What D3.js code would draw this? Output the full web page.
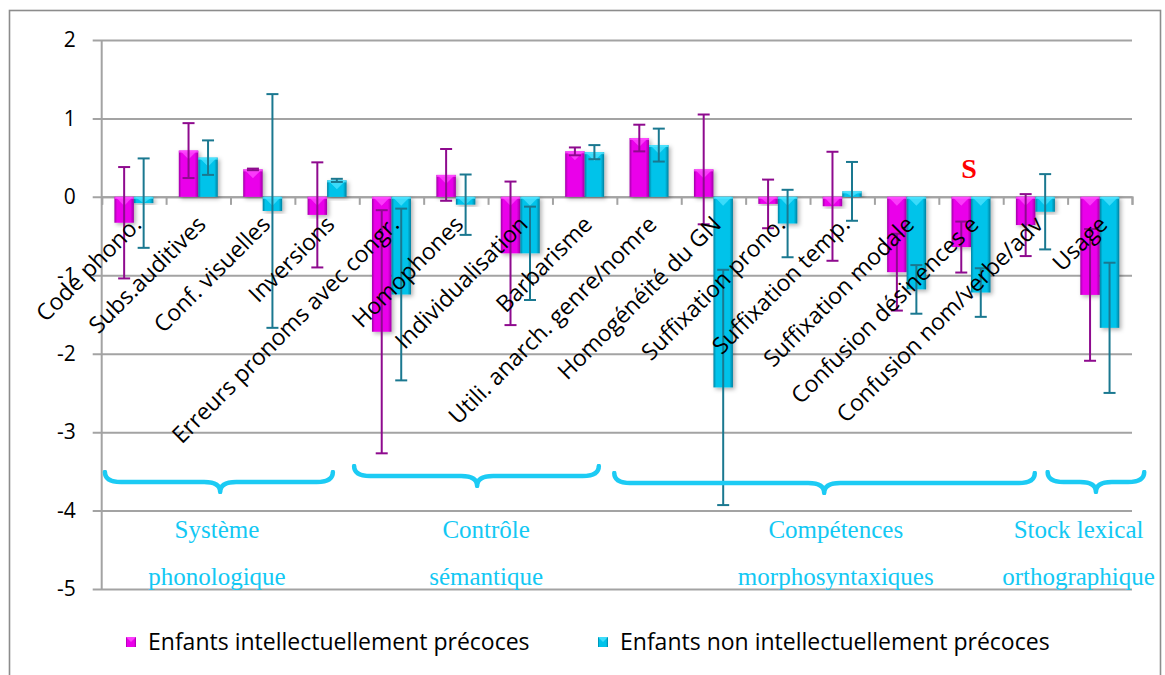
<!DOCTYPE html>
<html>
<head>
<meta charset="utf-8">
<script src="https://cdn.jsdelivr.net/npm/d3@7"></script>
<style>
  html, body { margin: 0; padding: 0; background: #ffffff; }
  svg { display: block; }
</style>
</head>
<body>
<svg id="chart" width="1165" height="675"></svg>
<script>
// ---------- DATA ----------
const categories = [
  "Code phono.", "Subs.auditives", "Conf. visuelles", "Inversions",
  "Erreurs pronoms avec congr.", "Homophones", "Individualisation", "Barbarisme",
  "Utili. anarch. genre/nomre", "Homogénéité du GN", "Suffixation prono.",
  "Suffixation temp.", "Suffixation modale", "Confusion désinences e",
  "Confusion nom/verbe/adv", "Usage"
];
const seriesNames = ["Enfants intellectuellement précoces", "Enfants non intellectuellement précoces"];
const precoces      = [-0.33, 0.59, 0.35, -0.23, -1.72, 0.28, -0.72, 0.58, 0.75, 0.35, -0.09, -0.12, -0.96, -0.64, -0.36, -1.25];
const precocesErr   = [0.71, 0.35, 0.01, 0.67, 1.55, 0.33, 0.915, 0.05, 0.17, 0.70, 0.31, 0.695, 0.49, 0.325, 0.395, 0.84];
const nonPrecoces   = [-0.08, 0.50, -0.18, 0.21, -1.245, -0.10, -0.72, 0.57, 0.66, -2.43, -0.34, 0.07, -1.18, -1.22, -0.19, -1.67];
const nonPrecocesErr= [0.57, 0.22, 1.49, 0.02, 1.095, 0.385, 0.595, 0.09, 0.21, 1.50, 0.43, 0.375, 0.31, 0.31, 0.48, 0.83];
const yTicks = [2, 1, 0, -1, -2, -3, -4, -5];
const groupLabels = [["Système", "phonologique"], ["Contrôle", "sémantique"], ["Compétences", "morphosyntaxiques"], ["Stock lexical", "orthographique"]];
const significanceMarks = [{ category: "Confusion désinences e", text: "S" }];

// ---------- LAYOUT ----------
const W = 1165, H = 675;
const plot = { left: 101.7, right: 1132, top: 40, bottom: 589 };
const sansFont = "'Open Sans', Lato, sans-serif";
const serifFont = "'Liberation Serif', 'Times New Roman', serif";
// brace layout in category units: start, tip, end; top y; label centre
const braceLayout = [
  { s: 0.05, t: 1.84, e: 3.59, y: 472, lc: 1.79 },
  { s: 3.92, t: 5.83, e: 7.72, y: 466, lc: 5.97 },
  { s: 7.96, t: 11.22, e: 14.49, y: 473, lc: 11.4 },
  { s: 14.69, t: 15.44, e: 16.19, y: 472, lc: 15.17 }
];

const svg = d3.select("#chart");
const defs = svg.append("defs");

const colors = [
  { dark: "#a000a6", main: "#ea00ea", light: "#ff4dff", err: "#8e0a8e" },
  { dark: "#00809f", main: "#00c3ea", light: "#4ee3ff", err: "#1a7890" }
];
colors.forEach((c, i) => {
  const g = defs.append("linearGradient").attr("id", "grad" + i).attr("x1", "0").attr("x2", "1").attr("y1", "0").attr("y2", "0");
  g.append("stop").attr("offset", "0%").attr("stop-color", c.dark);
  g.append("stop").attr("offset", "14%").attr("stop-color", c.main);
  g.append("stop").attr("offset", "82%").attr("stop-color", c.main);
  g.append("stop").attr("offset", "100%").attr("stop-color", c.dark);
});
const f = defs.append("filter").attr("id", "shadow").attr("x", "-30%").attr("y", "-10%").attr("width", "170%").attr("height", "130%");
f.append("feDropShadow").attr("dx", 2).attr("dy", 2).attr("stdDeviation", 2).attr("flood-color", "#000").attr("flood-opacity", 0.3);
const blur = defs.append("filter").attr("id", "soft");
blur.append("feGaussianBlur").attr("stdDeviation", 0.6);

// outer frame
svg.append("rect").attr("x", 9.5).attr("y", 10.5).attr("width", 1151).attr("height", 680)
  .attr("fill", "none").attr("stroke", "#8c8c8c").attr("stroke-width", 1.6);

// scales
const x = d3.scaleBand().domain(categories).range([plot.left, plot.right]).padding(0);
const xu = d3.scaleLinear().domain([0, categories.length]).range([plot.left, plot.right]);
const y = d3.scaleLinear().domain([-5, 2]).range([plot.bottom, plot.top]);
const barW = 19.5;
const x1 = d3.scaleBand().domain([0, 1]).range([x.bandwidth() / 2 - barW, x.bandwidth() / 2 + barW]).padding(0);

// gridlines + y axis
const yAxis = d3.axisLeft(y).tickValues(yTicks).tickSize(-(plot.right - plot.left)).tickFormat(d => String(d));
const gy = svg.append("g").attr("transform", `translate(${plot.left},0)`).call(yAxis);
gy.select(".domain").remove();
gy.selectAll(".tick line").attr("stroke", "#a3a3a3").attr("stroke-width", 2).attr("x1", -9);
gy.selectAll(".tick text").attr("x", -26).attr("fill", "#000").style("font-family", sansFont).style("font-size", "21px");
svg.append("line").attr("x1", plot.left).attr("x2", plot.left).attr("y1", plot.top).attr("y2", plot.bottom)
  .attr("stroke", "#a3a3a3").attr("stroke-width", 2);

// zero axis with downward ticks at band edges
const xAxis = d3.axisBottom(xu).tickValues(d3.range(0, categories.length + 1)).tickSize(8).tickFormat("");
const gx = svg.append("g").attr("transform", `translate(0,${y(0)})`).call(xAxis);
gx.select(".domain").attr("stroke", "#a3a3a3").attr("stroke-width", 2);
gx.selectAll(".tick line").attr("stroke", "#a3a3a3").attr("stroke-width", 2);

// bars
const series = [
  { vals: precoces, errs: precocesErr },
  { vals: nonPrecoces, errs: nonPrecocesErr }
];
series.forEach((s, si) => {
  const g = svg.append("g");
  categories.forEach((cat, ci) => {
    const v = s.vals[ci];
    const bx = x(cat) + x1(si);
    const top = y(Math.max(0, v));
    const h = Math.abs(y(v) - y(0));
    const bar = g.append("g").attr("filter", "url(#shadow)");
    bar.append("rect").attr("x", bx).attr("y", top).attr("width", barW).attr("height", h)
      .attr("fill", `url(#grad${si})`);
    const th = Math.min(h, barW * 0.45);
    bar.append("path")
      .attr("d", `M${bx + 1},${top} L${bx + barW - 1},${top} L${bx + barW / 2},${top + th} Z`)
      .attr("fill", colors[si].light).attr("opacity", 0.75);
    bar.append("rect").attr("x", bx).attr("y", top).attr("width", barW).attr("height", Math.min(2, h))
      .attr("fill", colors[si].light).attr("opacity", 0.8);
  });
});

// error bars
series.forEach((s, si) => {
  const g = svg.append("g").attr("stroke", colors[si].err).attr("stroke-width", 2).attr("fill", "none");
  categories.forEach((cat, ci) => {
    const cx = x(cat) + x1(si) + barW / 2;
    const hi = y(s.vals[ci] + s.errs[ci]);
    const lo = y(s.vals[ci] - s.errs[ci]);
    g.append("line").attr("x1", cx).attr("x2", cx).attr("y1", hi).attr("y2", lo);
    g.append("line").attr("x1", cx - 6).attr("x2", cx + 6).attr("y1", hi).attr("y2", hi);
    g.append("line").attr("x1", cx - 6).attr("x2", cx + 6).attr("y1", lo).attr("y2", lo);
  });
});

// category labels (rotated -45)
svg.append("g").selectAll("text").data(categories).join("text")
  .attr("transform", d => `translate(${x(d) + x.bandwidth() / 2 + 9},${y(0) + 29}) rotate(-45)`)
  .attr("text-anchor", "end")
  .style("font-family", sansFont).style("font-size", "23px").attr("fill", "#000")
  .text(d => d);

// braces
const braceColor = "#1ccbf4";
braceLayout.forEach((b, i) => {
  const x0 = xu(b.s), xm = xu(b.t), x2 = xu(b.e);
  const y0 = b.y, ym = b.y + 10, yt = b.y + 20;
  const r = 16;
  const p = `M${x0},${y0} Q${x0},${ym} ${x0 + r},${ym} L${xm - r},${ym} Q${xm},${ym} ${xm},${yt} ` +
            `Q${xm},${ym} ${xm + r},${ym} L${x2 - r},${ym} Q${x2},${ym} ${x2},${y0}`;
  svg.append("path").attr("d", p).attr("fill", "none").attr("stroke", braceColor).attr("stroke-width", 4.5)
    .attr("stroke-linecap", "round").attr("stroke-linejoin", "round").attr("filter", "url(#soft)");
  const t = svg.append("text").attr("text-anchor", "middle")
    .style("font-family", serifFont).style("font-size", "25px").attr("fill", "#12c8f4");
  t.append("tspan").attr("x", xu(b.lc)).attr("y", 538).text(groupLabels[i][0]);
  t.append("tspan").attr("x", xu(b.lc)).attr("y", 585).text(groupLabels[i][1]);
});

// significance mark
svg.append("g").selectAll("text").data(significanceMarks).join("text")
  .attr("x", d => x(d.category) + x.bandwidth() / 2 - 2)
  .attr("y", 178)
  .attr("text-anchor", "middle")
  .style("font-family", serifFont).style("font-size", "28px").style("font-weight", "bold")
  .attr("fill", "#ff0000").text(d => d.text);

// legend
const legendX = [126, 598];
seriesNames.forEach((n, i) => {
  const lg = svg.append("g").attr("transform", `translate(${legendX[i]},637)`);
  lg.append("rect").attr("width", 10).attr("height", 10).attr("fill", `url(#grad${i})`);
  lg.append("path").attr("d", "M0,0 L10,0 L5,5 Z").attr("fill", colors[i].light).attr("opacity", 0.8);
  lg.append("text").attr("x", 22).attr("y", 13)
    .style("font-family", sansFont).style("font-size", "23px").attr("fill", "#000").text(n);
});
</script>
</body>
</html>
